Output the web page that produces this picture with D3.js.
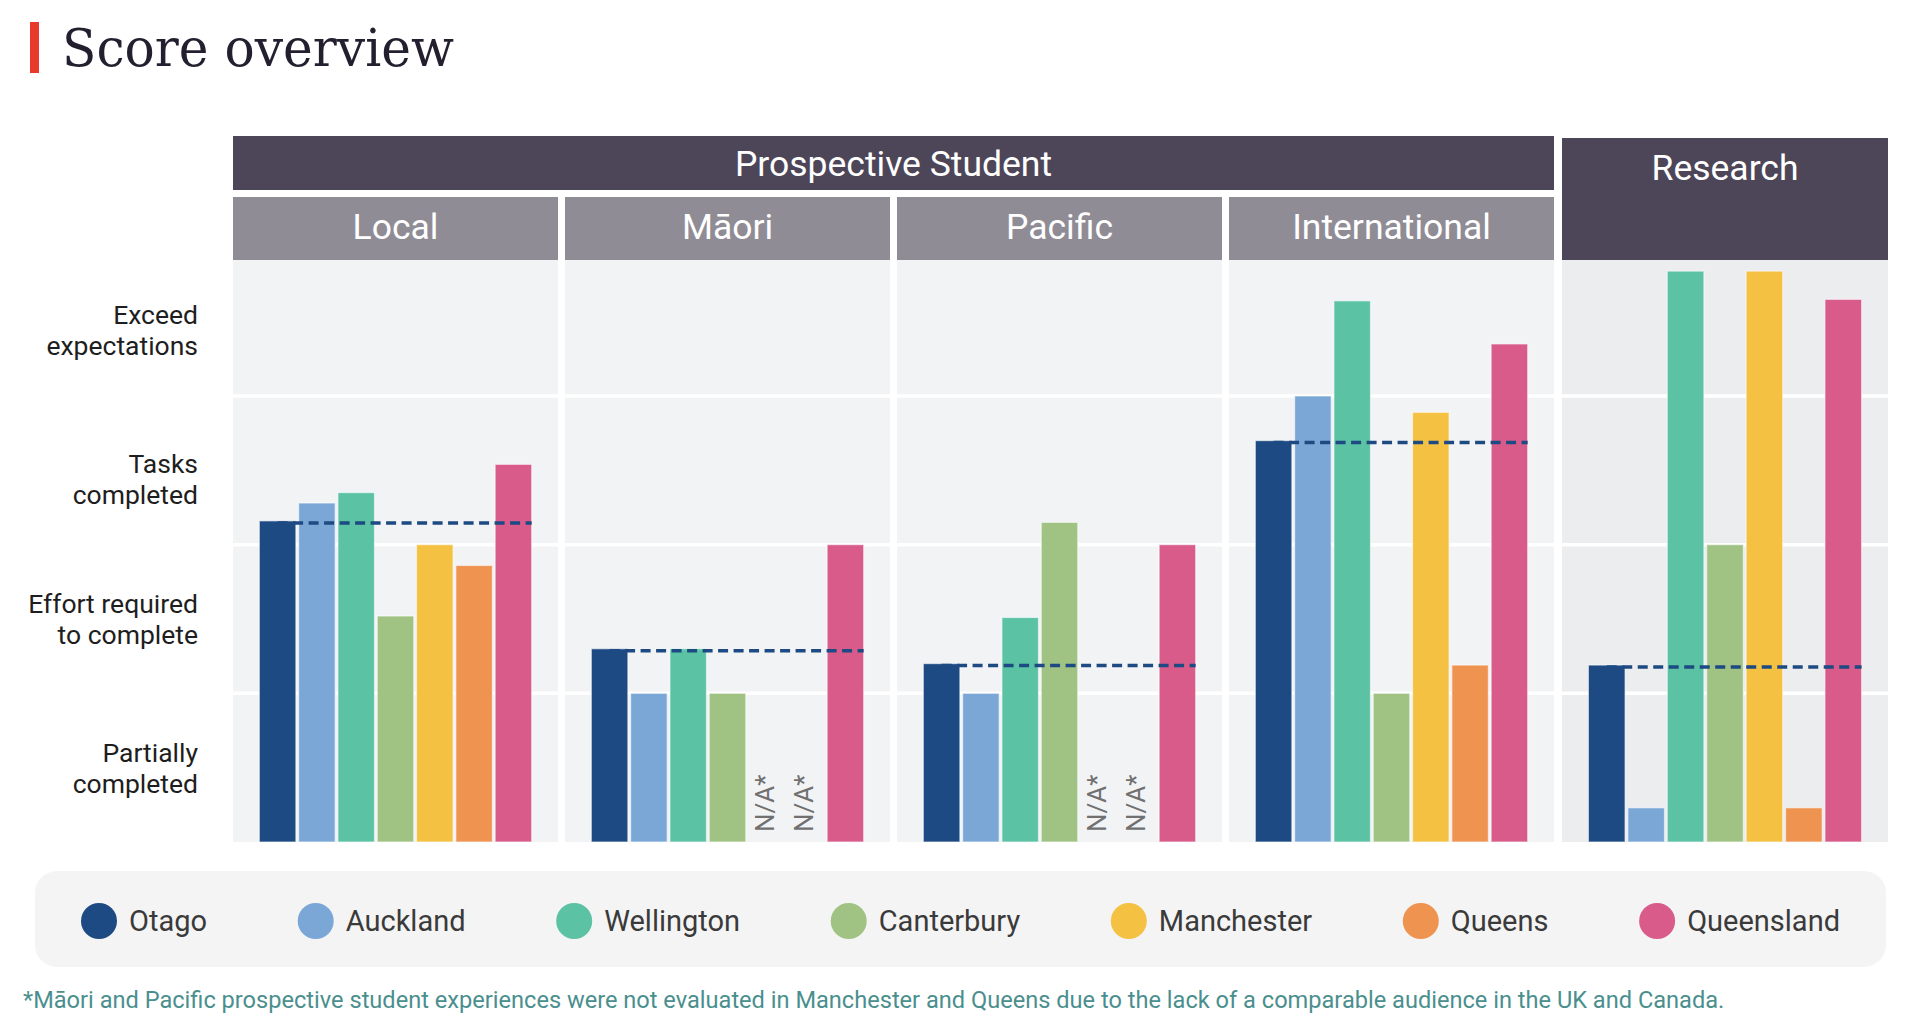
<!DOCTYPE html>
<html>
<head>
<meta charset="utf-8">
<script src="https://cdn.jsdelivr.net/npm/d3@7"></script>
<style>
  body { margin: 0; background: #fff; }
  svg { display: block; font-family: Roboto, "Noto Sans", sans-serif; }
</style>
</head>
<body>
<svg id="chart" width="1928" height="1032"></svg>
<script>
// universities (series) and their colours
const universities = ["Otago", "Auckland", "Wellington", "Canterbury", "Manchester", "Queens", "Queensland"];
const uniColors = ["#1d4a82", "#7ba7d7", "#5bc2a3", "#a0c383", "#f5c143", "#ef9351", "#d95b8a"];

// score levels (y axis labels), bottom to top
const levelLabels = [
  ["Partially", "completed"],
  ["Effort required", "to complete"],
  ["Tasks", "completed"],
  ["Exceed", "expectations"]
];

// panels
const groupName = "Prospective Student";
const studentPanels = ["Local", "Māori", "Pacific", "International"];
const researchPanel = "Research";

// scores per panel, same order as universities (null = not evaluated)
const localScores = [2.16, 2.28, 2.35, 1.52, 2.0, 1.86, 2.54];
const maoriScores = [1.3, 1.0, 1.3, 1.0, null, null, 2.0];
const pacificScores = [1.2, 1.0, 1.51, 2.15, null, null, 2.0];
const internationalScores = [2.7, 3.0, 3.64, 1.0, 2.89, 1.19, 3.35];
const researchScores = [1.19, 0.23, 3.84, 2.0, 3.84, 0.23, 3.65];

const naLabel = "N/A*";
const footnote = "*Māori and Pacific prospective student experiences were not evaluated in Manchester and Queens due to the lack of a comparable audience in the UK and Canada.";

const svg = d3.select("#chart");

// title
svg.append("rect").attr("x", 30).attr("y", 22).attr("width", 9).attr("height", 51).attr("fill", "#e8392b");
svg.append("text")
  .attr("x", 62).attr("y", 66)
  .attr("font-family", "'DejaVu Serif', serif")
  .attr("font-size", 52)
  .attr("textLength", 392)
  .attr("lengthAdjust", "spacingAndGlyphs")
  .attr("fill", "#231f2e")
  .text("Score overview");

// y scale shared by every panel
const plotTop = 260, plotBottom = 842;
const yScale = d3.scaleLinear().domain([0, 3]).range([plotBottom, 396]);

const headerFont = 35.5;

// panel definitions
const panels = [
  { name: studentPanels[0], scores: localScores, x: 233, w: 325 },
  { name: studentPanels[1], scores: maoriScores, x: 565, w: 325 },
  { name: studentPanels[2], scores: pacificScores, x: 897, w: 325 },
  { name: studentPanels[3], scores: internationalScores, x: 1229, w: 325 },
  { name: researchPanel, scores: researchScores, x: 1562, w: 326, research: true }
];

// group header
svg.append("rect").attr("x", 233).attr("y", 136).attr("width", 1321).attr("height", 54).attr("fill", "#4d4658");
svg.append("text").attr("x", 233 + 1321 / 2).attr("y", 176)
  .attr("text-anchor", "middle").attr("font-size", headerFont).attr("fill", "#fff").text(groupName);

panels.forEach(p => {
  const g = svg.append("g").attr("transform", `translate(${p.x},0)`);

  // header
  if (p.research) {
    g.append("rect").attr("y", 138).attr("width", p.w).attr("height", plotTop - 138).attr("fill", "#4d4658");
    g.append("text").attr("x", p.w / 2).attr("y", 180).attr("text-anchor", "middle")
      .attr("font-size", headerFont).attr("fill", "#fff").text(p.name);
  } else {
    g.append("rect").attr("y", 197).attr("width", p.w).attr("height", plotTop - 197).attr("fill", "#8f8c96");
    g.append("text").attr("x", p.w / 2).attr("y", 239).attr("text-anchor", "middle")
      .attr("font-size", headerFont).attr("fill", "#fff").text(p.name);
  }

  // background
  g.append("rect").attr("y", plotTop).attr("width", p.w).attr("height", plotBottom - plotTop)
    .attr("fill", p.research ? "#ecedef" : "#f2f3f5");

  // gridlines
  g.selectAll("line.grid").data([1, 2, 3]).join("line")
    .attr("class", "grid")
    .attr("x1", 0).attr("x2", p.w)
    .attr("y1", d => yScale(d)).attr("y2", d => yScale(d))
    .attr("stroke", "#fff").attr("stroke-width", 3.5);

  const xScale = d3.scaleBand().domain(universities).range([0, p.w])
    .paddingInner(0.071).paddingOuter(0.67);

  const rows = universities.map((u, i) => ({ uni: u, value: p.scores[i], color: uniColors[i] }));

  g.selectAll("rect.bar").data(rows.filter(d => d.value !== null)).join("rect")
    .attr("class", "bar")
    .attr("x", d => xScale(d.uni))
    .attr("width", xScale.bandwidth())
    .attr("y", d => yScale(d.value))
    .attr("height", d => plotBottom - yScale(d.value))
    .attr("fill", d => d.color)
    .attr("stroke", "rgba(255,255,255,0.55)")
    .attr("stroke-width", 1.2);

  // not evaluated
  g.selectAll("text.na").data(rows.filter(d => d.value === null)).join("text")
    .attr("class", "na")
    .attr("transform", d => `translate(${xScale(d.uni) + xScale.bandwidth() / 2 + 7},${plotBottom - 10}) rotate(-90)`)
    .attr("font-size", 26)
    .attr("fill", "#707070")
    .text(naLabel);

  // Otago reference line
  const ref = p.scores[0];
  g.append("line")
    .attr("x1", xScale(universities[0]) + xScale.bandwidth() / 2)
    .attr("x2", xScale(universities[universities.length - 1]) + xScale.bandwidth())
    .attr("y1", yScale(ref) + 2).attr("y2", yScale(ref) + 2)
    .attr("stroke", "#1d4a82").attr("stroke-width", 3.5)
    .attr("stroke-dasharray", "10,5.5");
});

// y labels
const labelShift = [0, 0, 9, 8];
const yLab = svg.append("g");
levelLabels.forEach((lines, i) => {
  const cy = yScale(i + 0.5) + labelShift[i];
  const t = yLab.append("text").attr("x", 198).attr("text-anchor", "end")
    .attr("font-size", 26.5).attr("fill", "#1e1e1e");
  lines.forEach((l, j) => {
    t.append("tspan").attr("x", 198).attr("y", cy - 6 + (j === 0 ? 0 : 31)).text(l);
  });
});

// legend
const legX = 35, legW = 1851, legY = 871, legH = 96;
svg.append("rect").attr("x", legX).attr("y", legY).attr("width", legW).attr("height", legH)
  .attr("rx", 22).attr("fill", "#f4f4f4");
const legend = svg.append("g");
const items = universities.map((u, i) => {
  const it = legend.append("g");
  it.append("circle").attr("cx", 18).attr("cy", legY + 50).attr("r", 18).attr("fill", uniColors[i]);
  const t = it.append("text").attr("x", 48).attr("y", legY + 60)
    .attr("font-size", 29).attr("fill", "#3a3a3a").text(u);
  return { g: it, w: 48 + t.node().getComputedTextLength() };
});
const legPad = 46;
const totalW = d3.sum(items, d => d.w);
const gap = (legW - 2 * legPad - totalW) / (items.length - 1);
let cx = legX + legPad;
items.forEach(d => {
  d.g.attr("transform", `translate(${cx},0)`);
  cx += d.w + gap;
});

// footnote
svg.append("text").attr("x", 23).attr("y", 1008)
  .attr("font-size", 23.6).attr("fill", "#4a8f8e")
  .text(footnote);
</script>
</body>
</html>
